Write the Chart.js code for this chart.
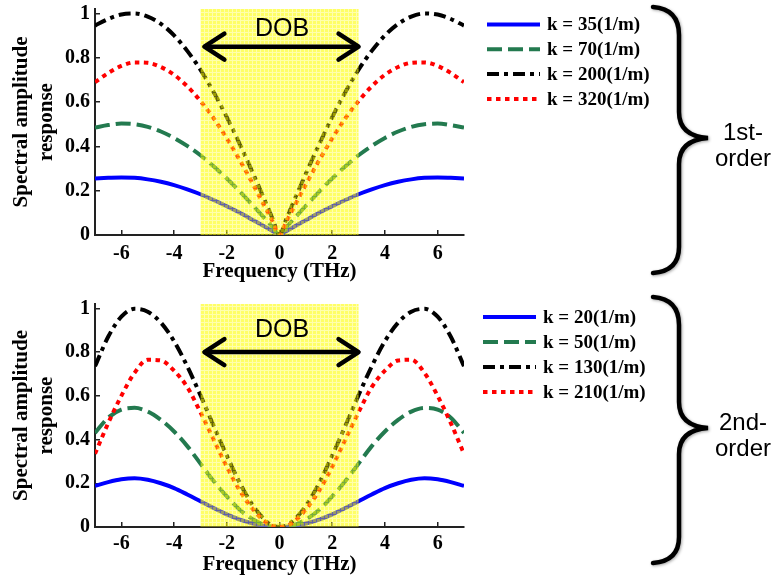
<!DOCTYPE html>
<html>
<head>
<meta charset="utf-8">
<script src="https://cdn.jsdelivr.net/npm/chart.js@4.4.1/dist/chart.umd.min.js"></script>
<style>
  body { margin: 0; background: #fff; width: 776px; height: 577px; position: relative; overflow: hidden; }
  canvas { position: absolute; left: 0; }
  #topChart { top: 0; }
  #bottomChart { top: 290px; }
</style>
</head>
<body>
<canvas id="topChart" width="776" height="290"></canvas>
<canvas id="bottomChart" width="776" height="287"></canvas>
<script>
// frequency samples (THz)
const freq = [-7, -6.5, -6, -5.5, -5, -4.5, -4, -3.5, -3, -2.5, -2, -1.5, -1, -0.5, -0.25, 0,
  0.25, 0.5, 1, 1.5, 2, 2.5, 3, 3.5, 4, 4.5, 5, 5.5, 6, 6.5, 7];

// 1st-order grating
const firstLabels = ['k = 35(1/m)', 'k = 70(1/m)', 'k = 200(1/m)', 'k = 320(1/m)'];
const firstK35 = [0.255, 0.258, 0.26, 0.258, 0.251, 0.24, 0.225, 0.206, 0.184, 0.158, 0.13, 0.1, 0.067, 0.034, 0.017, 0,
  0.017, 0.034, 0.067, 0.1, 0.13, 0.158, 0.184, 0.206, 0.225, 0.24, 0.251, 0.258, 0.26, 0.258, 0.255];
const firstK70 = [0.485, 0.496, 0.503, 0.5, 0.488, 0.467, 0.438, 0.402, 0.36, 0.31, 0.255, 0.195, 0.132, 0.067, 0.034, 0,
  0.034, 0.067, 0.132, 0.195, 0.255, 0.31, 0.36, 0.402, 0.438, 0.467, 0.488, 0.5, 0.503, 0.496, 0.485];
const firstK200 = [0.945, 0.975, 0.995, 1, 0.986, 0.953, 0.901, 0.831, 0.746, 0.645, 0.532, 0.408, 0.277, 0.14, 0.07, 0,
  0.07, 0.14, 0.277, 0.408, 0.532, 0.645, 0.746, 0.831, 0.901, 0.953, 0.986, 1, 0.995, 0.975, 0.945];
const firstK320 = [0.69, 0.731, 0.763, 0.779, 0.777, 0.758, 0.723, 0.671, 0.605, 0.527, 0.436, 0.336, 0.228, 0.115, 0.058, 0,
  0.058, 0.115, 0.228, 0.336, 0.436, 0.527, 0.605, 0.671, 0.723, 0.758, 0.777, 0.779, 0.763, 0.731, 0.69];

// 2nd-order grating
const secondLabels = ['k = 20(1/m)', 'k = 50(1/m)', 'k = 130(1/m)', 'k = 210(1/m)'];
const secondK20 = [0.188, 0.205, 0.218, 0.223, 0.216, 0.2, 0.178, 0.149, 0.118, 0.087, 0.058, 0.034, 0.016, 0.004, 0.001, 0,
  0.001, 0.004, 0.016, 0.034, 0.058, 0.087, 0.118, 0.149, 0.178, 0.2, 0.216, 0.223, 0.218, 0.205, 0.188];
const secondK50 = [0.43, 0.5, 0.537, 0.545, 0.528, 0.49, 0.437, 0.37, 0.29, 0.21, 0.14, 0.078, 0.034, 0.006, 0.001, 0,
  0.001, 0.006, 0.034, 0.078, 0.14, 0.21, 0.29, 0.37, 0.437, 0.49, 0.528, 0.545, 0.537, 0.5, 0.43];
const secondK130 = [0.735, 0.87, 0.962, 0.998, 0.985, 0.935, 0.85, 0.735, 0.603, 0.463, 0.327, 0.2, 0.097, 0.026, 0.006, 0,
  0.006, 0.026, 0.097, 0.2, 0.327, 0.463, 0.603, 0.735, 0.85, 0.935, 0.985, 0.998, 0.962, 0.87, 0.735];
const secondK210 = [0.335, 0.475, 0.6, 0.705, 0.765, 0.762, 0.715, 0.64, 0.525, 0.4, 0.275, 0.165, 0.08, 0.02, 0.004, 0,
  0.004, 0.02, 0.08, 0.165, 0.275, 0.4, 0.525, 0.64, 0.715, 0.762, 0.765, 0.705, 0.6, 0.475, 0.335];

const xTicks = [-6, -4, -2, 0, 2, 4, 6];
const xTickLabels = ['-6', '-4', '-2', '0', '2', '4', '6'];
const yTicks = [0, 0.2, 0.4, 0.6, 0.8, 1];
const yTickLabels = ['0', '0.2', '0.4', '0.6', '0.8', '1'];
const dobRange = [-3, 3];

const lineColors = ['#0000ff', '#237a4f', '#000000', '#ff0000'];
const lineDashes = [[], [15, 6], [12, 5, 4, 5], [4.5, 4.5]];

const serif = '"Liberation Serif", "Times New Roman", serif';
const sans = '"Liberation Sans", Arial, sans-serif';

// yellow checkered band, laid over the curves
function makeBandPattern(ctx) {
    const tile = document.createElement('canvas');
    tile.width = 4;
    tile.height = 4;
    const t = tile.getContext('2d');
    t.fillStyle = 'rgba(255,255,40,0.38)';
    t.fillRect(0, 0, 4, 4);
    t.clearRect(1, 1, 3, 3);
    t.fillStyle = 'rgba(255,255,0,0.6)';
    t.fillRect(1, 1, 3, 3);
    return ctx.createPattern(tile, 'repeat');
}

function drawArrowHead(ctx, x, y, dir) {
    ctx.beginPath();
    ctx.moveTo(x - dir * 20, y - 13);
    ctx.lineTo(x, y);
    ctx.lineTo(x - dir * 20, y + 13);
    ctx.stroke();
}

const decorations = {
    id: 'decorations',
    afterDatasetsDraw(chart, args, opts) {
        const { ctx, chartArea: area, scales: { x, y } } = chart;
        const x0 = x.getPixelForValue(dobRange[0]);
        const x1 = x.getPixelForValue(dobRange[1]);

        ctx.save();
        ctx.fillStyle = makeBandPattern(ctx);
        ctx.fillRect(x0, area.top, x1 - x0, area.bottom - area.top);

        // DOB label and double arrow
        ctx.fillStyle = '#000';
        ctx.font = '25px ' + sans;
        ctx.textAlign = 'center';
        ctx.textBaseline = 'alphabetic';
        ctx.fillText('DOB', x.getPixelForValue(opts.textX), y.getPixelForValue(opts.textY));

        const ay = y.getPixelForValue(opts.arrowY);
        const ax0 = x.getPixelForValue(opts.arrowFrom);
        const ax1 = x.getPixelForValue(opts.arrowTo);
        ctx.strokeStyle = '#000';
        ctx.lineWidth = 4.5;
        ctx.lineCap = 'round';
        ctx.lineJoin = 'round';
        ctx.beginPath();
        ctx.moveTo(ax0 + 2, ay);
        ctx.lineTo(ax1 - 2, ay);
        ctx.stroke();
        drawArrowHead(ctx, ax0, ay, -1);
        drawArrowHead(ctx, ax1, ay, 1);
        ctx.restore();
    },
    afterDraw(chart, args, opts) {
        const { ctx } = chart;
        ctx.save();

        // legend, styled from the datasets
        ctx.font = 'bold 19px ' + serif;
        ctx.textAlign = 'left';
        ctx.textBaseline = 'middle';
        chart.data.datasets.forEach((ds, i) => {
            const rowY = opts.legendTop + i * opts.legendStep;
            ctx.strokeStyle = ds.borderColor;
            ctx.lineWidth = ds.borderWidth;
            ctx.lineCap = 'butt';
            ctx.setLineDash(ds.borderDash);
            ctx.beginPath();
            ctx.moveTo(opts.legendX, rowY);
            ctx.lineTo(opts.legendX + 53, rowY);
            ctx.stroke();
            ctx.setLineDash([]);
            ctx.fillStyle = '#000';
            ctx.fillText(ds.label, opts.legendX + 60, rowY + 1);
        });

        // curly brace with a soft shadow
        ctx.shadowColor = 'rgba(0,0,0,0.35)';
        ctx.shadowBlur = 3;
        ctx.shadowOffsetX = 1;
        ctx.shadowOffsetY = 1;
        ctx.strokeStyle = '#000';
        ctx.lineWidth = 4.5;
        ctx.lineCap = 'round';
        ctx.beginPath();
        ctx.moveTo(653, 7);
        ctx.quadraticCurveTo(679, 9, 679, 35);
        ctx.lineTo(679, 112);
        ctx.quadraticCurveTo(679, 136, 708, 138);
        ctx.quadraticCurveTo(679, 140, 679, 164);
        ctx.lineTo(679, 247);
        ctx.quadraticCurveTo(679, 271, 653, 273);
        ctx.stroke();
        ctx.shadowColor = 'transparent';

        ctx.fillStyle = '#000';
        ctx.font = '24px ' + sans;
        ctx.textAlign = 'center';
        ctx.textBaseline = 'alphabetic';
        ctx.fillText(opts.order[0], 743, 140);
        ctx.fillText(opts.order[1], 743, 166);
        ctx.restore();
    }
};

function makeChart(id, series, labels, cfg) {
    const tickFont = { family: serif, size: 20, weight: 'bold' };
    const titleFont = { family: serif, size: 21, weight: 'bold', lineHeight: 1.15 };

    return new Chart(document.getElementById(id), {
        type: 'line',
        data: {
            datasets: series.map((values, i) => ({
                label: labels[i],
                data: freq.map((f, j) => ({ x: f, y: values[j] })),
                borderColor: lineColors[i],
                borderDash: lineDashes[i],
                borderWidth: 4,
                borderCapStyle: 'butt',
                pointRadius: 0,
                fill: false,
                cubicInterpolationMode: 'monotone',
                order: 3 - i
            }))
        },
        options: {
            responsive: false,
            animation: false,
            devicePixelRatio: 1,
            layout: { padding: { left: 0, right: 312, top: cfg.padTop, bottom: 0 } },
            plugins: {
                legend: { display: false },
                tooltip: { enabled: false },
                decorations: cfg.decor
            },
            scales: {
                x: {
                    type: 'linear',
                    min: -7,
                    max: 7,
                    afterBuildTicks: (s) => { s.ticks = xTicks.map((v) => ({ value: v })); },
                    afterFit: (s) => {
                        s.height = cfg.xAxisHeight;
                        s.paddingLeft = 0;
                        s.paddingRight = 0;
                    },
                    grid: { drawOnChartArea: false, tickLength: -5, color: '#222', lineWidth: 1.5 },
                    border: { color: '#222', width: 2 },
                    ticks: {
                        autoSkip: false,
                        maxRotation: 0,
                        padding: cfg.xTickPad,
                        color: '#000',
                        font: tickFont,
                        callback: (v, i) => xTickLabels[i]
                    },
                    title: {
                        display: true,
                        text: 'Frequency (THz)',
                        color: '#000',
                        font: titleFont,
                        padding: { top: 0, bottom: cfg.xTitlePad }
                    }
                },
                y: {
                    min: 0,
                    max: 1.02,
                    afterBuildTicks: (s) => { s.ticks = yTicks.map((v) => ({ value: v })); },
                    afterFit: (s) => {
                        s.width = 95;
                        s.paddingTop = 0;
                        s.paddingBottom = 0;
                    },
                    grid: { drawOnChartArea: false, tickLength: -5, color: '#222', lineWidth: 1.5 },
                    border: { color: '#222', width: 2 },
                    ticks: {
                        autoSkip: false,
                        padding: 10,
                        color: '#000',
                        font: tickFont,
                        callback: (v, i) => yTickLabels[i]
                    },
                    title: {
                        display: true,
                        text: ['Spectral amplitude', 'response'],
                        color: '#000',
                        font: titleFont,
                        padding: { top: 10, bottom: 0 }
                    }
                }
            }
        },
        plugins: [decorations]
    });
}

makeChart('topChart', [firstK35, firstK70, firstK200, firstK320], firstLabels, {
    padTop: 9,
    xAxisHeight: 55,
    xTickPad: 12,
    xTitlePad: 6,
    decor: {
        textX: 0.1, textY: 0.9, arrowY: 0.85, arrowFrom: -2.85, arrowTo: 3.0,
        legendX: 487, legendTop: 24.5, legendStep: 24.8,
        order: ['1st-', 'order']
    }
});

makeChart('bottomChart', [secondK20, secondK50, secondK130, secondK210], secondLabels, {
    padTop: 14,
    xAxisHeight: 50,
    xTickPad: 10,
    xTitlePad: 0,
    decor: {
        textX: 0.1, textY: 0.869, arrowY: 0.8, arrowFrom: -2.85, arrowTo: 3.0,
        legendX: 483, legendTop: 27, legendStep: 25,
        order: ['2nd-', 'order']
    }
});
</script>
</body>
</html>
